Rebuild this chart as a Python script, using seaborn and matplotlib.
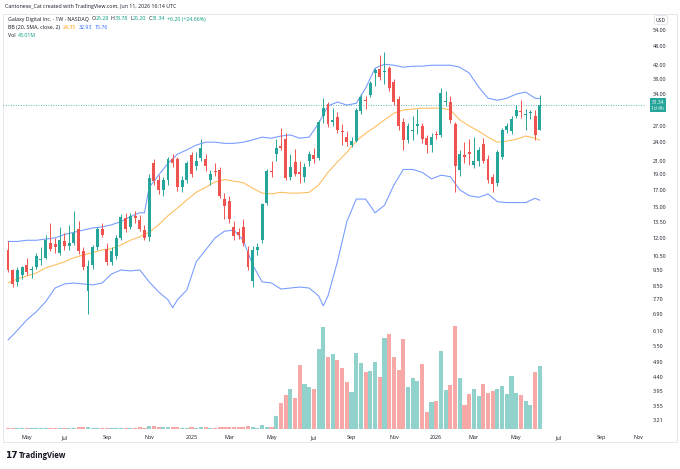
import numpy as np
import pandas as pd
import matplotlib
matplotlib.use("Agg")
import matplotlib.pyplot as plt
import matplotlib.dates as mdates
from matplotlib.patches import Rectangle
from matplotlib.ticker import FixedLocator, NullLocator, FixedFormatter
import seaborn as sns

sns.set_style("white")
plt.rcParams["font.family"] = ["Open Sans", "DejaVu Sans"]

# ---------------- data (weekly candles) ----------------
first_week = "2024-04-08"

opens = [
    11.0, 9.5, 8.7, 9.2, 9.9, 9.5, 9.7, 10.2, 10.4, 11.6,
    11.5, 10.8, 11.7, 11.3, 11.6, 12.8, 10.9, 8.2, 9.9, 11.2,
    12.8, 11.1, 10.1, 10.5, 12.0, 13.9, 13.0, 14.1, 13.7, 12.7,
    12.1, 20.6, 18.2, 17.0, 18.2, 21.3, 21.2, 17.3, 18.2, 21.8,
    20.2, 21.4, 21.3, 18.2, 19.5, 19.6, 15.9, 15.7, 13.0, 12.5,
    13.0, 10.9, 8.8, 11.0, 11.8, 15.5, 19.5, 22.1, 23.3, 24.5,
    18.7, 20.8, 19.3, 18.6, 20.9, 21.8, 21.4, 29.0, 31.6, 27.8,
    28.8, 26.0, 25.0, 23.6, 24.2, 30.0, 32.6, 33.8, 39.5, 40.7,
    39.9, 41.1, 37.0, 32.9, 27.7, 24.4, 26.0, 27.0, 27.0, 24.8,
    23.6, 25.5, 25.3, 32.1, 32.2, 27.3, 19.6, 21.8, 22.3, 20.3,
    20.9, 23.7, 21.2, 18.7, 17.9, 21.6, 26.2, 26.0, 29.0, 30.0,
    29.3, 29.6, 29.1, 26.28]

highs = [
    11.7, 9.6, 9.7, 9.8, 10.4, 9.8, 10.8, 11.2, 12.3, 13.4,
    12.0, 13.0, 12.4, 13.2, 14.6, 13.6, 11.2, 10.2, 11.4, 13.0,
    13.4, 11.6, 11.2, 12.3, 14.3, 14.4, 14.4, 14.6, 14.2, 13.2,
    19.0, 21.2, 18.9, 18.6, 21.6, 22.0, 21.6, 18.8, 21.0, 22.3,
    22.3, 24.6, 22.0, 19.6, 20.6, 20.0, 16.6, 16.3, 13.6, 12.9,
    13.8, 11.3, 11.3, 11.6, 15.5, 19.8, 21.0, 24.6, 26.5, 25.6,
    22.0, 22.8, 21.0, 20.6, 22.5, 23.0, 28.2, 33.0, 32.2, 30.8,
    29.8, 27.4, 26.0, 25.0, 30.8, 34.0, 33.6, 37.5, 41.0, 45.1,
    46.2, 41.8, 37.8, 33.6, 28.6, 27.5, 29.0, 30.5, 27.6, 25.2,
    25.6, 26.0, 35.5, 34.8, 33.6, 27.8, 22.6, 24.0, 24.6, 25.0,
    23.2, 24.8, 21.8, 19.0, 22.6, 26.6, 27.6, 29.0, 31.4, 32.6,
    30.6, 30.4, 30.4, 33.78]

lows = [
    9.4, 8.4, 8.5, 8.9, 9.2, 9.0, 9.6, 9.9, 10.3, 10.9,
    10.8, 10.6, 11.0, 11.0, 11.4, 10.7, 9.5, 6.9, 9.6, 11.0,
    12.1, 9.9, 9.9, 10.3, 11.8, 12.5, 12.8, 13.4, 12.6, 11.8,
    11.7, 17.6, 16.5, 16.2, 17.6, 20.0, 16.8, 16.7, 17.8, 18.6,
    19.6, 21.0, 19.5, 17.6, 18.8, 16.0, 13.8, 13.4, 11.8, 11.9,
    11.3, 9.5, 8.4, 10.6, 11.6, 15.2, 18.6, 21.0, 22.6, 18.2,
    18.3, 18.8, 17.9, 18.0, 20.2, 20.6, 21.1, 27.5, 26.8, 27.0,
    25.7, 23.6, 23.4, 23.2, 24.0, 29.5, 30.6, 33.2, 36.0, 37.6,
    36.5, 34.8, 31.4, 26.2, 22.6, 23.8, 24.3, 25.5, 23.8, 22.2,
    22.4, 24.6, 24.9, 31.2, 27.6, 16.7, 18.8, 20.6, 20.4, 19.9,
    20.2, 20.6, 17.8, 16.7, 17.5, 21.2, 25.6, 25.4, 28.6, 28.6,
    26.3, 28.3, 24.4, 26.20]

closes = [
    9.5, 8.6, 9.5, 9.7, 9.4, 9.6, 10.5, 10.3, 11.8, 11.1,
    11.2, 11.8, 11.3, 11.6, 12.4, 10.9, 9.7, 9.8, 11.2, 12.8,
    12.3, 10.1, 10.9, 12.0, 14.0, 12.8, 14.1, 13.9, 12.8, 12.0,
    18.5, 18.1, 17.0, 18.3, 21.3, 20.6, 17.3, 18.3, 20.6, 19.0,
    21.0, 23.0, 20.2, 19.1, 19.3, 16.3, 15.1, 13.8, 12.2, 12.3,
    11.6, 9.7, 11.0, 11.2, 15.3, 19.5, 19.3, 23.0, 23.0, 18.5,
    20.1, 19.1, 19.0, 20.1, 22.1, 21.3, 27.8, 30.8, 27.3, 28.2,
    26.2, 25.8, 24.1, 24.2, 30.2, 33.3, 32.3, 36.9, 40.5, 38.4,
    40.2, 35.4, 32.2, 26.9, 24.3, 26.9, 26.3, 27.3, 24.5, 23.5,
    24.9, 25.2, 34.3, 32.4, 28.1, 20.2, 22.0, 21.6, 22.0, 20.9,
    22.7, 21.0, 18.2, 17.7, 22.3, 26.2, 27.0, 28.4, 30.4, 29.8,
    29.5, 29.9, 25.3, 31.34]

# volume, millions of shares
volumes = [
    1.0, 0.6, 0.5, 0.6, 0.7, 0.5, 0.6, 0.8, 0.9, 1.0,
    0.8, 0.7, 0.6, 0.7, 1.0, 1.3, 1.1, 1.5, 0.9, 0.8,
    0.7, 0.6, 0.7, 0.8, 0.9, 0.8, 0.9, 1.0, 1.1, 1.0,
    2.2, 1.8, 1.6, 1.2, 1.5, 1.3, 1.2, 1.0, 0.9, 1.1,
    1.0, 1.2, 1.1, 0.9, 0.8, 1.3, 1.2, 1.4, 1.5, 1.2,
    1.6, 2.0, 1.4, 1.0, 3.0, 1.2, 1.4, 8.9, 17.8, 23.2,
    27.3, 21.2, 43.7, 30.7, 28.7, 27.3, 54.6, 69.7, 49.2, 51.2,
    47.1, 41.7, 32.1, 25.3, 51.9, 45.1, 38.9, 39.6, 45.8, 35.5,
    62.2, 64.9, 49.2, 40.3, 61.5, 28.7, 34.8, 32.8, 44.4, 11.6,
    18.4, 19.1, 53.3, 26.6, 30.1, 70.3, 34.8, 16.4, 23.9, 27.3,
    22.5, 30.7, 24.6, 26.0, 27.3, 29.4, 23.9, 36.2, 24.6, 23.2,
    19.1, 16.4, 38.9, 43.01]

# Bollinger Bands (20, SMA, close, 2) at these candle indices
upper_idx = [0, 2, 4, 6, 8, 10, 12, 14, 16, 18, 20, 22, 24, 26, 28, 29, 30, 32, 34, 36,
             38, 40, 42, 44, 46, 48, 50, 52, 54, 56, 58, 60, 62, 64, 66, 68, 70, 72, 74, 76,
             78, 80, 82, 84, 86, 88, 90, 92, 94, 96, 98, 100, 102, 104, 106, 108, 110, 112, 113]
upper_vals = [11.7, 11.7, 11.8, 11.8, 11.9, 12.0, 12.3, 12.5, 12.7, 12.9,
              13.0, 13.2, 13.5, 14.0, 14.4, 14.4, 17.3, 18.9, 20.6, 22.0,
              22.7, 23.5, 24.0, 24.0, 23.8, 23.8, 24.0, 24.4, 24.9, 24.7,
              25.1, 25.3, 24.7, 24.9, 27.5, 31.2, 32.1, 31.4, 31.8, 35.5,
              41.0, 42.2, 41.9, 41.3, 41.6, 41.6, 41.9, 41.9, 41.9, 41.3,
              39.6, 35.8, 33.0, 32.5, 33.0, 34.0, 34.5, 33.0, 32.93]

basis_idx = list(range(0, 113, 2)) + [113]
basis_vals = [8.66, 8.92, 9.11, 9.31, 9.66, 9.87, 10.1, 10.4, 10.6, 10.8,
              11.0, 11.1, 11.4, 11.8, 12.1, 12.5, 13.2, 14.1, 14.9, 15.8,
              16.7, 17.3, 18.0, 18.3, 18.1, 17.9, 17.2, 16.6, 16.5, 16.7,
              16.6, 16.6, 16.7, 17.6, 19.3, 20.8, 22.3, 24.2, 25.6, 26.8,
              28.2, 29.6, 30.3, 30.5, 30.7, 30.7, 30.7, 30.3, 28.2, 27.0,
              26.0, 24.9, 24.0, 24.2, 24.5, 25.1, 24.7, 24.35]

lower_idx = [0, 2, 4, 6, 8, 10, 12, 14, 16, 18, 20, 22, 24, 26, 28, 30, 32, 34, 35, 36,
             38, 40, 42, 44, 46, 48, 50, 52, 54, 56, 58, 60, 62, 64, 66, 67, 68, 70, 72, 74,
             76, 78, 80, 82, 84, 86, 88, 90, 92, 94, 96, 98, 100, 102, 104, 106, 108, 110, 112, 113]
lower_vals = [5.73, 6.15, 6.63, 7.03, 7.56, 8.35, 8.60, 8.66, 8.60, 8.54,
              8.66, 9.24, 9.52, 9.45, 9.52, 8.73, 8.12, 7.67, 7.24, 7.67,
              8.23, 10.1, 11.0, 12.0, 12.6, 12.7, 11.8, 9.87, 8.73, 8.66,
              8.29, 8.35, 8.41, 8.35, 7.89, 7.34, 7.89, 10.1, 13.5, 15.9,
              15.9, 14.4, 15.2, 17.6, 19.7, 19.7, 19.3, 18.4, 18.9, 18.7,
              17.0, 16.3, 16.1, 16.5, 15.6, 15.5, 15.5, 15.5, 16.0, 15.76]

price_ticks = [3.21, 3.55, 3.95, 4.40, 4.90, 5.50, 6.10, 6.90, 7.70, 8.50, 9.50, 10.50,
               12.00, 13.50, 15.00, 17.00, 19.00, 21.00, 24.00, 27.00, 34.00, 38.00,
               42.00, 48.00, 54.00]
month_ticks = ["2024-05-06", "2024-07-01", "2024-09-02", "2024-11-04", "2025-01-06",
               "2025-03-03", "2025-05-05", "2025-07-07", "2025-09-01", "2025-11-03",
               "2026-01-05", "2026-03-02", "2026-05-04", "2026-07-06", "2026-09-07",
               "2026-11-02"]
month_labels = ["May", "Jul", "Sep", "Nov", "2025", "Mar", "May", "Jul", "Sep", "Nov",
                "2026", "Mar", "May", "Jul", "Sep", "Nov"]
view_start, view_end = "2024-03-31 14:00", "2026-11-13"
last_price = 31.34

# ---------------- styling ----------------
UP, DOWN = "#26a69a", "#ef5350"
UP_VOL, DOWN_VOL = "#92d2cc", "#f7a9a7"
TXT = "#131722"
BLUE, ORANGE = "#2962ff", "#ff9800"

W, H = 680, 469
fig = plt.figure(figsize=(W / 100, H / 100), dpi=100, facecolor="white")
renderer = fig.canvas.get_renderer()


def fx(px):
    return px / W


def fy(py):
    return 1 - py / H


ax = fig.add_axes([fx(3), fy(429), fx(646) - fx(3), fy(14) - fy(429)])
ax2 = ax.twinx()
ax.set_zorder(2)
ax2.set_zorder(1)
ax.patch.set_visible(False)

df = pd.DataFrame({"open": opens, "high": highs, "low": lows, "close": closes,
                   "volume": volumes})
df["date"] = pd.date_range(first_week, periods=len(df), freq="7D")
df["x"] = mdates.date2num(df["date"])
up = df["close"] >= df["open"]
cand_col = np.where(up, UP, DOWN)
vol_col = np.where(up, UP_VOL, DOWN_VOL)

# volume (overlay, bottom)
ax2.bar(df["x"], df["volume"], width=6.1, color=vol_col, linewidth=0)
ax2.set_ylim(0, 283)
ax2.set_yticks([])
for s in ax2.spines.values():
    s.set_visible(False)

# Bollinger bands
for idx, vals, col in [(upper_idx, upper_vals, BLUE), (lower_idx, lower_vals, BLUE),
                       (basis_idx, basis_vals, ORANGE)]:
    bdf = pd.DataFrame({"x": df["x"].values[idx], "v": vals})
    sns.lineplot(data=bdf, x="x", y="v", ax=ax, color=col, lw=0.75, alpha=0.65,
                 legend=False, sort=False, estimator=None)

# candles
ax.vlines(df["x"], df["low"], df["high"], colors=cand_col, lw=0.7, zorder=3)
body_lo = np.minimum(df["open"], df["close"])
body_h = np.abs(df["close"] - df["open"])
ax.bar(df["x"], body_h, bottom=body_lo, width=4.4, color=cand_col, linewidth=0, zorder=4)

# last price line
ax.axhline(last_price, color=UP, lw=0.6, ls=(0, (1, 2)), zorder=2)

ax.set_yscale("log")
ax.set_ylim(3.01, 60.7)
ax.set_xlim(mdates.date2num(pd.Timestamp(view_start)), mdates.date2num(pd.Timestamp(view_end)))
ax.set_xlabel("")
ax.set_ylabel("")
ax.yaxis.set_major_locator(FixedLocator(price_ticks))
ax.yaxis.set_major_formatter(FixedFormatter([f"{t:.2f}" for t in price_ticks]))
ax.yaxis.set_minor_locator(NullLocator())
ax.yaxis.tick_right()
ax.tick_params(axis="y", which="both", length=0, pad=5, labelsize=3.9, labelcolor=TXT,
               right=True, labelright=True, left=False, labelleft=False)
ax.set_xticks(mdates.date2num(pd.to_datetime(month_ticks)))
ax.set_xticklabels(month_labels)
ax.tick_params(axis="x", length=0, pad=4.5, labelsize=3.9, labelcolor=TXT)
for s in ax.spines.values():
    s.set_visible(False)
ax.grid(False)

# last price label
ax.text(1.0085, last_price, f"{last_price:.2f}\n1d 4h", transform=ax.get_yaxis_transform(),
        ha="left", va="center", fontsize=3.5, color="white", linespacing=1.2,
        bbox=dict(boxstyle="square,pad=0.35", fc=UP, ec="none"), zorder=10, clip_on=False)

# frame & USD label
fig.add_artist(Rectangle((fx(3), fy(442)), fx(677) - fx(3), fy(14) - fy(442),
                         transform=fig.transFigure, fill=False, ec="#e0e3eb", lw=0.6))
fig.text(fx(661), fy(20), "USD", ha="center", va="center", fontsize=3.6, color=TXT,
         bbox=dict(boxstyle="round,pad=0.35", fc="white", ec="#d1d4dc", lw=0.4))


def text_run(x_px, y_px, parts, size):
    x = x_px
    for s, c, gap in parts:
        t = fig.text(fx(x), fy(y_px), s, color=c, fontsize=size, ha="left", va="center")
        x += t.get_window_extent(renderer=renderer).width + gap


TEAL = "#089981"
text_run(5, 6.5, [("Cantonese_Cat created with TradingView.com, Jun 11, 2026 16:14 UTC", TXT, 0)], 3.8)
text_run(8, 19, [("Galaxy Digital Inc. · 1W · NASDAQ", TXT, 2.5),
                 ("O", TXT, 0.2), ("26.28", TEAL, 1.8), ("H", TXT, 0.2), ("33.78", TEAL, 1.8),
                 ("L", TXT, 0.2), ("26.20", TEAL, 1.8), ("C", TXT, 0.2), ("31.34", TEAL, 1.8),
                 ("+6.20 (+24.66%)", TEAL, 0)], 3.8)
text_run(8, 27.5, [("BB (20, SMA, close, 2)", TXT, 2.5), ("24.35", ORANGE, 2.5),
                   ("32.93", BLUE, 2.5), ("15.76", BLUE, 0)], 3.8)
text_run(8, 35.5, [("Vol", TXT, 2.5), ("43.01M", TEAL, 0)], 3.8)

# TradingView logo
fig.text(fx(5), fy(455), "17", fontsize=6.5, fontweight="bold", color=TXT, ha="left",
         va="center", family="DejaVu Sans")
fig.text(fx(19), fy(455), "TradingView", fontsize=5.6, fontweight="bold", color=TXT,
         ha="left", va="center")

fig.savefig("out.png", dpi=100, facecolor="white")
